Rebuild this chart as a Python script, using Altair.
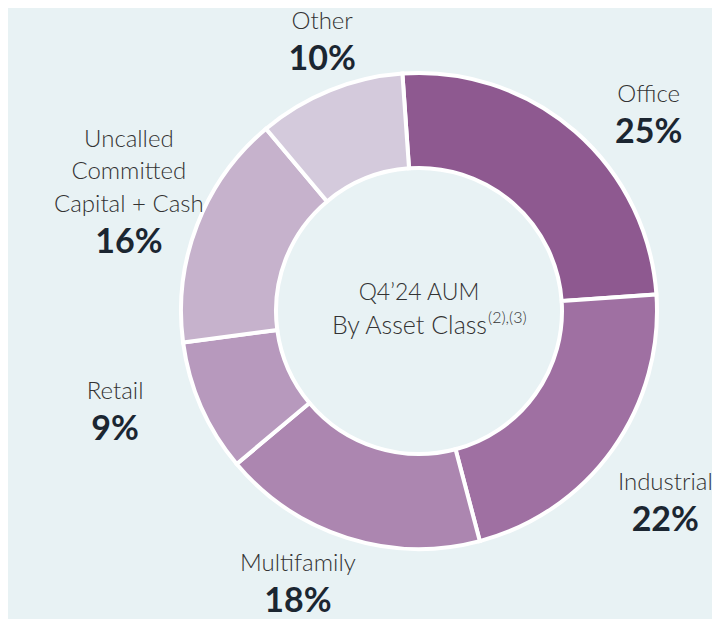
import math
import altair as alt
import pandas as pd

categories = ["Office", "Industrial", "Multifamily", "Retail", "Uncalled Committed Capital + Cash", "Other"]
name_lines = [["Office"], ["Industrial"], ["Multifamily"], ["Retail"],
              ["Uncalled", "Committed", "Capital + Cash"], ["Other"]]
values = [25, 22, 18, 9, 16, 10]
pct_labels = ["25%", "22%", "18%", "9%", "16%", "10%"]
colors = ["#8E5990", "#9F70A2", "#AC86B0", "#B799BD", "#C6B2CC", "#D4CADC"]

df = pd.DataFrame({
    "category": categories,
    "value": values,
    "pct": pct_labels,
    "order": list(range(len(categories))),
    "n": [len(l) for l in name_lines],
    "line0": [l[0] if len(l) > 0 else "" for l in name_lines],
    "line1": [l[1] if len(l) > 1 else "" for l in name_lines],
    "line2": [l[2] if len(l) > 2 else "" for l in name_lines],
})

W, H = 704, 611
CX, CY = 411, 303
start = -4 * math.pi / 180
shift = 4.5 * math.pi / 180
RX, RY = 322, 288
LCY = CY + 5
LH, GAP = 32.5, 38

theta_scale = alt.Scale(range=[2 * math.pi + start, 4 * math.pi + start])

arcs = alt.Chart(df).mark_arc(outerRadius=238, innerRadius=143, stroke="white", strokeWidth=4).encode(
    x=alt.value(CX),
    y=alt.value(CY),
    order=alt.Order("order:Q"),
    theta=alt.Theta("value:Q", stack=True, scale=theta_scale),
    color=alt.Color("category:N", scale=alt.Scale(domain=categories, range=colors), legend=None),
)

lab = alt.Chart(df).transform_window(
    cum="sum(value)", sort=[alt.SortField("order")]
).transform_joinaggregate(
    total="sum(value)"
).transform_calculate(
    ang=f"(datum.cum - datum.value / 2) / datum.total * 2 * PI + {start + shift}",
    mid=f"((datum.n - 1) * {LH} + {GAP}) / 2",
).transform_calculate(
    lx=f"{CX} + {RX} * sin(datum.ang)",
    ly=f"{LCY} - {RY} * cos(datum.ang)",
)

layers = []
for k in range(3):
    layers.append(
        lab.transform_calculate(yy=f"datum.ly + {k * LH} - datum.mid").mark_text(
            font="Lato", fontWeight=300, fontSize=24, color="#333333",
            baseline="middle", align="center",
        ).encode(
            x=alt.X("lx:Q", scale=None),
            y=alt.Y("yy:Q", scale=None),
            text=f"line{k}:N",
        )
    )

pcts = lab.transform_calculate(
    yy=f"datum.ly + (datum.n - 1) * {LH} + {GAP} - datum.mid"
).mark_text(
    font="Lato", fontWeight="bold", fontSize=34, color="#1B2631",
    baseline="middle", align="center",
).encode(
    x=alt.X("lx:Q", scale=None),
    y=alt.Y("yy:Q", scale=None),
    text="pct:N",
)

center1 = alt.Chart(pd.DataFrame({"t": ["Q4\u201924 AUM"]})).mark_text(
    font="Lato", fontWeight=300, fontSize=23, color="#333333", align="center", baseline="middle"
).encode(x=alt.value(CX), y=alt.value(CY - 18), text="t:N")

center2 = alt.Chart(pd.DataFrame({"t": ["By Asset Class"]})).mark_text(
    font="Lato", fontWeight=300, fontSize=25, color="#333333", align="right", baseline="middle"
).encode(x=alt.value(CX + 68), y=alt.value(CY + 15), text="t:N")

center3 = alt.Chart(pd.DataFrame({"t": ["(2),(3)"]})).mark_text(
    font="Lato", fontWeight=300, fontSize=16, color="#333333", align="left", baseline="middle"
).encode(x=alt.value(CX + 69), y=alt.value(CY + 7), text="t:N")

chart = alt.layer(arcs, *layers, pcts, center1, center2, center3).properties(
    width=W, height=H, padding=0, autosize=alt.AutoSizeParams(type="none"),
    background="#E8F2F4",
).configure_view(stroke=None)

chart.save("out.html", embed_options={"renderer": "svg", "actions": False})
